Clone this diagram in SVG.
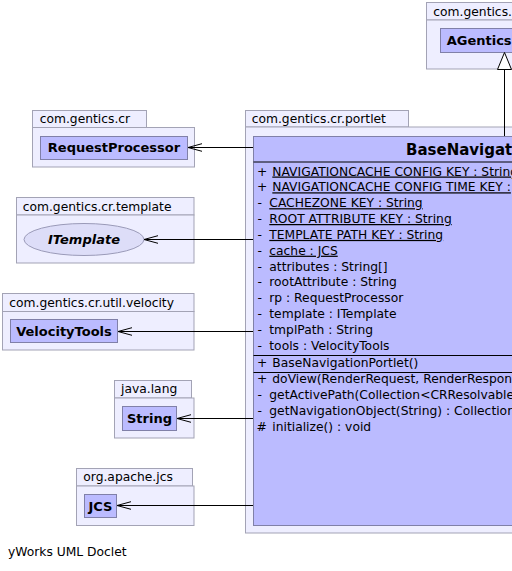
<svg xmlns="http://www.w3.org/2000/svg" width="512" height="571" viewBox="0 0 512 571">
<defs>
<style>
text{font-family:"DejaVu Sans","Noto Sans",sans-serif;fill:#000}
.pkg{fill:#eeeeff;stroke:#a3a3b5;stroke-width:1}
.cls{fill:#bbbbff;stroke:#8080a8;stroke-width:1}
.ell{fill:#ddddf8;stroke:#9a9ab8;stroke-width:1}
.lbl{font-size:12.3px}
.nm{font-size:13px;font-weight:bold;text-anchor:middle}
.mb{font-size:12.3px}
.u{text-decoration:underline}
.sep{stroke:#000;stroke-width:1}
.dep{stroke:#000;stroke-width:1;fill:none;marker-end:url(#open)}
</style>
<marker id="open" viewBox="-15 -5 16 10" refX="0" refY="0" markerWidth="16" markerHeight="10" markerUnits="userSpaceOnUse" orient="auto">
<path d="M-14,-3.8 L0,0 L-14,3.8" fill="none" stroke="#000" stroke-width="1"/>
</marker>
</defs>
<rect width="512" height="571" fill="#fff"/>

<g id="pkg-agentics">
<rect class="pkg" x="426.5" y="2.5" width="100" height="17.5"/>
<rect class="pkg" x="426.5" y="20" width="100" height="49"/>
<text class="lbl" x="433.3" y="16">com.gentics.</text>
</g>
<g id="node-agentics">
<rect class="cls" x="440.5" y="28.5" width="90" height="24"/>
<text class="nm" x="446.7" y="45" style="text-anchor:start">AGentics</text>
</g>

<g id="pkg-cr">
<rect class="pkg" x="32.5" y="110.5" width="114" height="17"/>
<rect class="pkg" x="32.5" y="127.5" width="162" height="39.5"/>
<text class="lbl" x="39.7" y="123.3">com.gentics.cr</text>
</g>
<g id="node-requestprocessor">
<rect class="cls" x="40.5" y="136.5" width="147" height="23"/>
<text class="nm" x="114" y="152.3">RequestProcessor</text>
</g>

<g id="pkg-template">
<rect class="pkg" x="16.5" y="197.5" width="177.5" height="17.5"/>
<rect class="pkg" x="16.5" y="215" width="177.5" height="48"/>
<text class="lbl" x="22.7" y="211">com.gentics.cr.template</text>
</g>
<g id="node-itemplate">
<ellipse class="ell" cx="84" cy="239.5" rx="60" ry="16"/>
<text class="nm" x="84" y="244" style="font-style:italic">ITemplate</text>
</g>

<g id="pkg-velocity">
<rect class="pkg" x="2.5" y="293.5" width="191.5" height="18"/>
<rect class="pkg" x="2.5" y="311.5" width="191.5" height="38.5"/>
<text class="lbl" x="9.3" y="307.3">com.gentics.cr.util.velocity</text>
</g>
<g id="node-velocitytools">
<rect class="cls" x="10.5" y="319.5" width="107" height="23"/>
<text class="nm" x="64" y="336">VelocityTools</text>
</g>

<g id="pkg-javalang">
<rect class="pkg" x="114.5" y="380.5" width="77" height="17.5"/>
<rect class="pkg" x="114.5" y="398" width="79.5" height="40"/>
<text class="lbl" x="121" y="393.3">java.lang</text>
</g>
<g id="node-string">
<rect class="cls" x="122.5" y="406.5" width="54" height="24"/>
<text class="nm" x="149.5" y="423.3">String</text>
</g>

<g id="pkg-jcs">
<rect class="pkg" x="76.5" y="468.5" width="116" height="17.5"/>
<rect class="pkg" x="76.5" y="486" width="117.5" height="39.5"/>
<text class="lbl" x="83.3" y="481.3">org.apache.jcs</text>
</g>
<g id="node-jcs">
<rect class="cls" x="84.5" y="494.5" width="32" height="23"/>
<text class="nm" x="100.5" y="510.7">JCS</text>
</g>

<g id="pkg-portlet">
<rect class="pkg" x="245.5" y="110.5" width="163" height="16.5"/>
<rect class="pkg" x="245.5" y="127" width="300" height="406"/>
<text class="lbl" x="251.7" y="122.7">com.gentics.cr.portlet</text>
</g>
<g id="node-basenavigationportlet">
<rect class="cls" x="253.5" y="136.5" width="300" height="389"/>
<text x="406" y="155" style="font-size:15px;font-weight:bold">BaseNavigat</text>
<line class="sep" x1="253.5" y1="162" x2="512" y2="162"/>
<g class="mb">
<text x="257" y="175.5">+</text><text x="272.3" y="175.5" class="u">NAVIGATIONCACHE CONFIG KEY : String</text>
<text x="257" y="191.3">+</text><text x="272.3" y="191.3" class="u">NAVIGATIONCACHE CONFIG TIME KEY :</text>
<text x="257.5" y="207.2">-</text><text x="269.3" y="207.2" class="u">CACHEZONE KEY : String</text>
<text x="257.5" y="223">-</text><text x="269.3" y="223" class="u">ROOT ATTRIBUTE KEY : String</text>
<text x="257.5" y="238.9">-</text><text x="269.3" y="238.9" class="u">TEMPLATE PATH KEY : String</text>
<text x="257.5" y="254.7">-</text><text x="269.3" y="254.7" class="u">cache : JCS</text>
<text x="257.5" y="270.6">-</text><text x="269.3" y="270.6">attributes : String[]</text>
<text x="257.5" y="286.4">-</text><text x="269.3" y="286.4">rootAttribute : String</text>
<text x="257.5" y="302.3">-</text><text x="269.3" y="302.3">rp : RequestProcessor</text>
<text x="257.5" y="318.1">-</text><text x="269.3" y="318.1">template : ITemplate</text>
<text x="257.5" y="334">-</text><text x="269.3" y="334">tmplPath : String</text>
<text x="257.5" y="349.8">-</text><text x="269.3" y="349.8">tools : VelocityTools</text>
</g>
<line class="sep" x1="253.5" y1="355.5" x2="512" y2="355.5"/>
<g class="mb">
<text x="257" y="367">+</text><text x="272.3" y="367">BaseNavigationPortlet()</text>
</g>
<line class="sep" x1="253.5" y1="372.5" x2="512" y2="372.5"/>
<g class="mb">
<text x="257" y="383.3">+</text><text x="272.3" y="383.3">doView(RenderRequest, RenderRespon</text>
<text x="257.5" y="399.2">-</text><text x="269.3" y="399.2">getActivePath(Collection&lt;CRResolvable</text>
<text x="257.5" y="415">-</text><text x="269.3" y="415">getNavigationObject(String) : Collection</text>
<text x="256.5" y="430.8">#</text><text x="272.3" y="430.8">initialize() : void</text>
</g>
</g>

<g id="connectors">
<line x1="504.5" y1="136" x2="504.5" y2="69.5" stroke="#000" stroke-width="1"/>
<polygon points="504.5,52.5 497.5,69.5 511.5,69.5" fill="#fff" stroke="#000" stroke-width="1"/>
<path class="dep" d="M253,147.5 H188"/>
<path class="dep" d="M253,239.5 H144"/>
<path class="dep" d="M253,331.5 H118"/>
<path class="dep" d="M253,418.5 H177"/>
<path class="dep" d="M253,505.5 H117"/>
</g>

<text x="8" y="556" style="font-size:12.3px">yWorks UML Doclet</text>
</svg>
